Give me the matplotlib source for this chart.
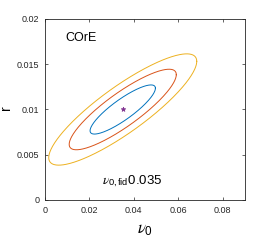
import numpy as np
import matplotlib.pyplot as plt

plt.rcParams['font.family'] = ['Liberation Sans', 'DejaVu Sans']
plt.rcParams['mathtext.fontset'] = 'custom'
plt.rcParams['mathtext.rm'] = 'Liberation Sans'
plt.rcParams['mathtext.sf'] = 'Liberation Sans'
plt.rcParams['mathtext.it'] = 'STIXGeneral:italic'

# fiducial point and Fisher-ellipse parameters
nu0_fid = 0.035
r_fid = 0.01
sigma_nu0 = 0.0097
sigma_r = 0.00179
rho = 0.865
levels = [2.30, 6.18, 11.8]  # delta chi2, 1/2/3 sigma for 2 params
colors = ['#0072BD', '#D95319', '#EDB120']

xticks = [0, 0.02, 0.04, 0.06, 0.08]
yticks = [0, 0.005, 0.01, 0.015, 0.02]


def ellipse(dchi2, n=400):
    cov = np.array([[sigma_nu0**2, rho*sigma_nu0*sigma_r],
                    [rho*sigma_nu0*sigma_r, sigma_r**2]])
    L = np.linalg.cholesky(cov)
    t = np.linspace(0, 2*np.pi, n)
    circ = np.vstack([np.cos(t), np.sin(t)]) * np.sqrt(dchi2)
    pts = L @ circ
    return pts[0] + nu0_fid, pts[1] + r_fid


fig = plt.figure(figsize=(2.7, 2.49), dpi=100)
ax = fig.add_axes([0.1667, 0.1968, 0.7403, 0.7269])

for lev, c in zip(levels, colors):
    x, y = ellipse(lev)
    ax.plot(x, y, color=c, lw=0.7)

ax.plot(nu0_fid, r_fid, marker='*', color='#7E2F8E', ms=3.5, mew=0.5, ls='none')

ax.text(0.009, 0.0179, 'COrE', fontsize=9, va='center', ha='left')
ax.text(0.0256, 0.0018, r'$\nu_{\mathrm{0,fid}}$0.035', fontsize=9.5,
        va='baseline', ha='left')

ax.set_xlim(0, 0.09)
ax.set_ylim(0, 0.02)
ax.set_xticks(xticks)
ax.set_yticks(yticks)
ax.set_xticklabels(['0', '0.02', '0.04', '0.06', '0.08'])
ax.set_yticklabels(['0', '0.005', '0.01', '0.015', '0.02'])
ax.tick_params(direction='in', top=True, right=True, length=2.5, width=0.5,
               labelsize=6.5, colors='#262626', pad=4)
for s in ax.spines.values():
    s.set_linewidth(0.6)
    s.set_color('#262626')

ax.set_xlabel(r'$\nu_{\mathrm{0}}$', fontsize=12, labelpad=6)
ax.set_ylabel('r', fontsize=10)
ax.yaxis.set_label_coords(-0.16, 0.51)

fig.savefig('out.png', dpi=100)
